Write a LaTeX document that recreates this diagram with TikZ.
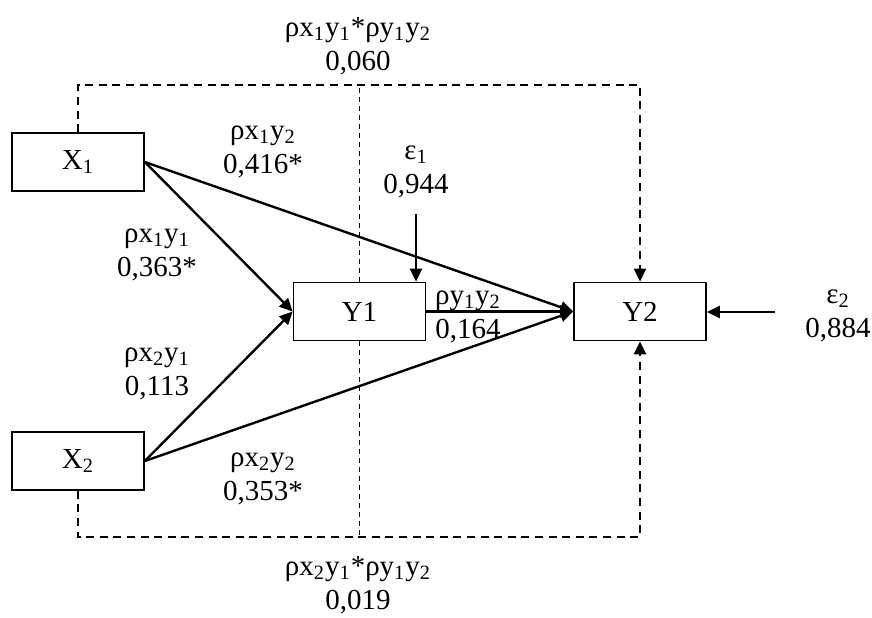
\documentclass[tikz,border=0pt]{standalone}
\usepackage{fontspec}
\setmainfont{Liberation Serif}
\usetikzlibrary{arrows.meta}
\newcommand{\sbs}[1]{\textsubscript{#1}}

\begin{document}
\begin{tikzpicture}[
  x=0.5pt, y=-0.5pt,
  font=\fontsize{14.5}{17}\selectfont,
  var/.style={draw, line width=0.85pt, minimum width=66pt, minimum height=29pt, inner sep=0pt},
  effect/.style={-{Triangle[length=6.5pt,width=6pt]}, line width=1.2pt},
  indirect/.style={effect, dash pattern=on 4pt off 2.8pt},
  guide/.style={line width=0.6pt, dash pattern=on 2.5pt off 2pt},
  coef/.style={align=center, inner sep=0pt}
]
\useasboundingbox (0,0) rectangle (872,617);

% variables
\node[var] (x1) at (78,162) {X\sbs{1}};
\node[var] (x2) at (78,461) {X\sbs{2}};
\node[var] (y1) at (359.5,311.5) {Y1};
\node[var] (y2) at (640,311.5) {Y2};

% coefficients
\node[coef] (ind1) at (358,46) {ρx\sbs{1}y\sbs{1}*ρy\sbs{1}y\sbs{2}\\0,060};
\node[coef] (ind2) at (358,585) {ρx\sbs{2}y\sbs{1}*ρy\sbs{1}y\sbs{2}\\0,019};
\node[coef] (p12) at (263,152) {ρx\sbs{1}y\sbs{2}\\0,416*};
\node[coef] (p11) at (157,255) {ρx\sbs{1}y\sbs{1}\\0,363*};
\node[coef] (p21) at (157,374) {ρx\sbs{2}y\sbs{1}\\0,113};
\node[coef] (p22) at (263,479) {ρx\sbs{2}y\sbs{2}\\0,353*};
\node[coef] (pyy) at (468,317) {ρy\sbs{1}y\sbs{2}\\0,164};
\node[coef] (eps1) at (416,172) {ε\sbs{1}\\0,944};
\node[coef] (eps2) at (838,316) {ε\sbs{2}\\0,884};

\coordinate (upper) at (0,85);
\coordinate (lower) at (0,537);
\coordinate (e1) at (416,214);
\coordinate (e2) at (775,312);

% indirect paths
\draw[indirect] (x1.north) -- (x1.north |- upper) -- (y2.north |- upper) -- (y2.north);
\draw[indirect] (x2.south) -- (x2.south |- lower) -- (y2.south |- lower) -- (y2.south);
\draw[guide] (y1.north) -- (y1.north |- upper);
\draw[guide] (y1.south) -- (y1.south |- lower);

% direct paths
\draw[effect] (x1.east) -- (y1.west);
\draw[effect] (x2.east) -- (y1.west);
\draw[effect] (x1.east) -- (y2.west);
\draw[effect] (x2.east) -- (y2.west);
\draw[effect] (y1.east) -- (y2.west);
\draw[effect] (e1) -- (e1 |- y1.north);
\draw[effect] (e2) -- (e2 -| y2.east);
\end{tikzpicture}
\end{document}
